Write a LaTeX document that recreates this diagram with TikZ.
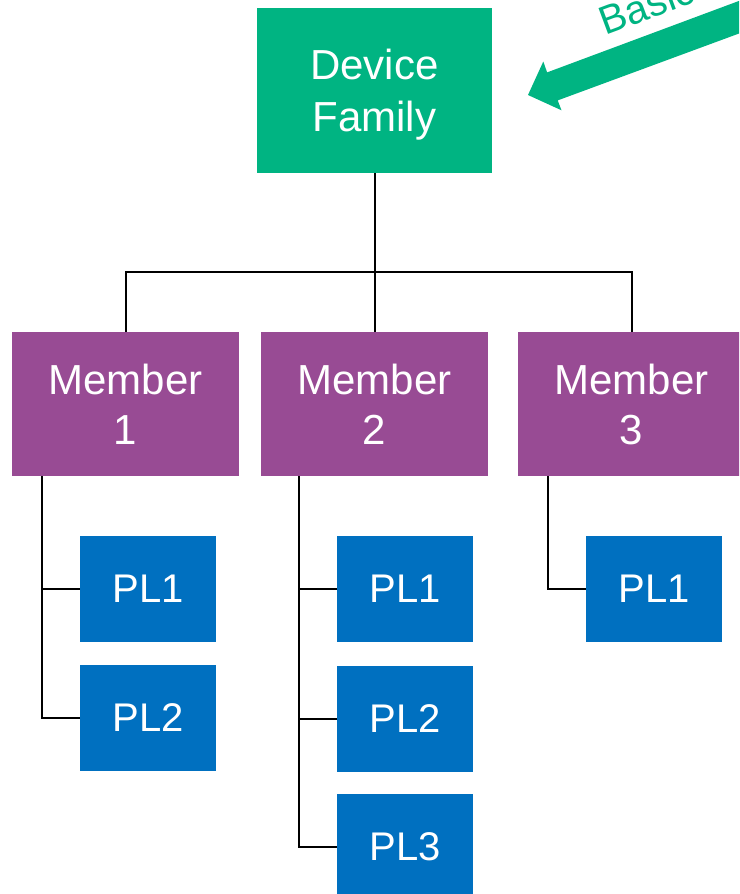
\documentclass[tikz,border=0pt]{standalone}
\usepackage{fontspec}
\setmainfont{Liberation Sans}
\definecolor{famgreen}{RGB}{0,180,130}
\definecolor{mempurple}{RGB}{152,75,148}
\definecolor{plblue}{RGB}{0,112,192}
\begin{document}
\begin{tikzpicture}[x=1pt,y=-1pt,
  box/.style={inner sep=0pt, text=white, align=center,
              font=\fontsize{42}{51}\selectfont},
  family/.style={box, fill=famgreen, minimum width=235pt, minimum height=165pt,
                 text depth=-3pt, font=\fontsize{42}{52}\selectfont},
  member/.style={box, fill=mempurple, minimum width=227pt, minimum height=144pt,
                 text depth=-4pt, font=\fontsize{42}{50}\selectfont},
  pl/.style={box, fill=plblue, minimum width=136pt, minimum height=106pt,
             font=\fontsize{40}{48}\selectfont},
  link/.style={draw=black, line width=2pt, line join=miter}]
\useasboundingbox (0,0) rectangle (739,894);
\clip (0,0) rectangle (739,894);
\fill[white] (0,0) rectangle (739,894);

% family, members and product lines
\node[family] (df) at (374.5,90.5) {Device\\Family};
\node[member] (m1) at (125.5,404) {Member\\1};
\node[member] (m2) at (374.5,404) {Member\\2};
\node[member] (m3) at (631.5,404) {Member\\3};

\node[pl] (p11) at (148,589) {PL1};
\node[pl] (p12) at (148,718) {PL2};
\node[pl] (p21) at (405,589) {PL1};
\node[pl] (p22) at (405,719) {PL2};
\node[pl] (p23) at (405,847) {PL3};
\node[pl] (p31) at (654,589) {PL1};

% family to members
\coordinate (bus) at (374.5,272);
\draw[link] (df.south) -- (m2.north);
\draw[link] (m1.north) -- (m1.north |- bus) -- (m3.north |- bus) -- (m3.north);

% members to product lines
\coordinate (s1) at (42,476);
\coordinate (s2) at (299,476);
\coordinate (s3) at (548,476);
\draw[link] (s1) |- (p11.west);
\draw[link] (s1) |- (p12.west);
\draw[link] (s2) |- (p21.west);
\draw[link] (s2) |- (p22.west);
\draw[link] (s2) |- (p23.west);
\draw[link] (s3) |- (p31.west);

% block arrow pointing at the family
\coordinate (tip) at (528,95);
\fill[famgreen] (tip) -- (543.3,61.5) -- (547.1,72.4) -- (828.2,-32.3)
  -- (838.8,-3.3) -- (557.7,100.4) -- (561.5,110.3) -- cycle;
\node[anchor=base west, rotate=20.4, text=famgreen, inner sep=0pt,
      font=\fontsize{40}{48}\selectfont] (basic) at (605.5,35.5) {Basic};
\end{tikzpicture}
\end{document}
